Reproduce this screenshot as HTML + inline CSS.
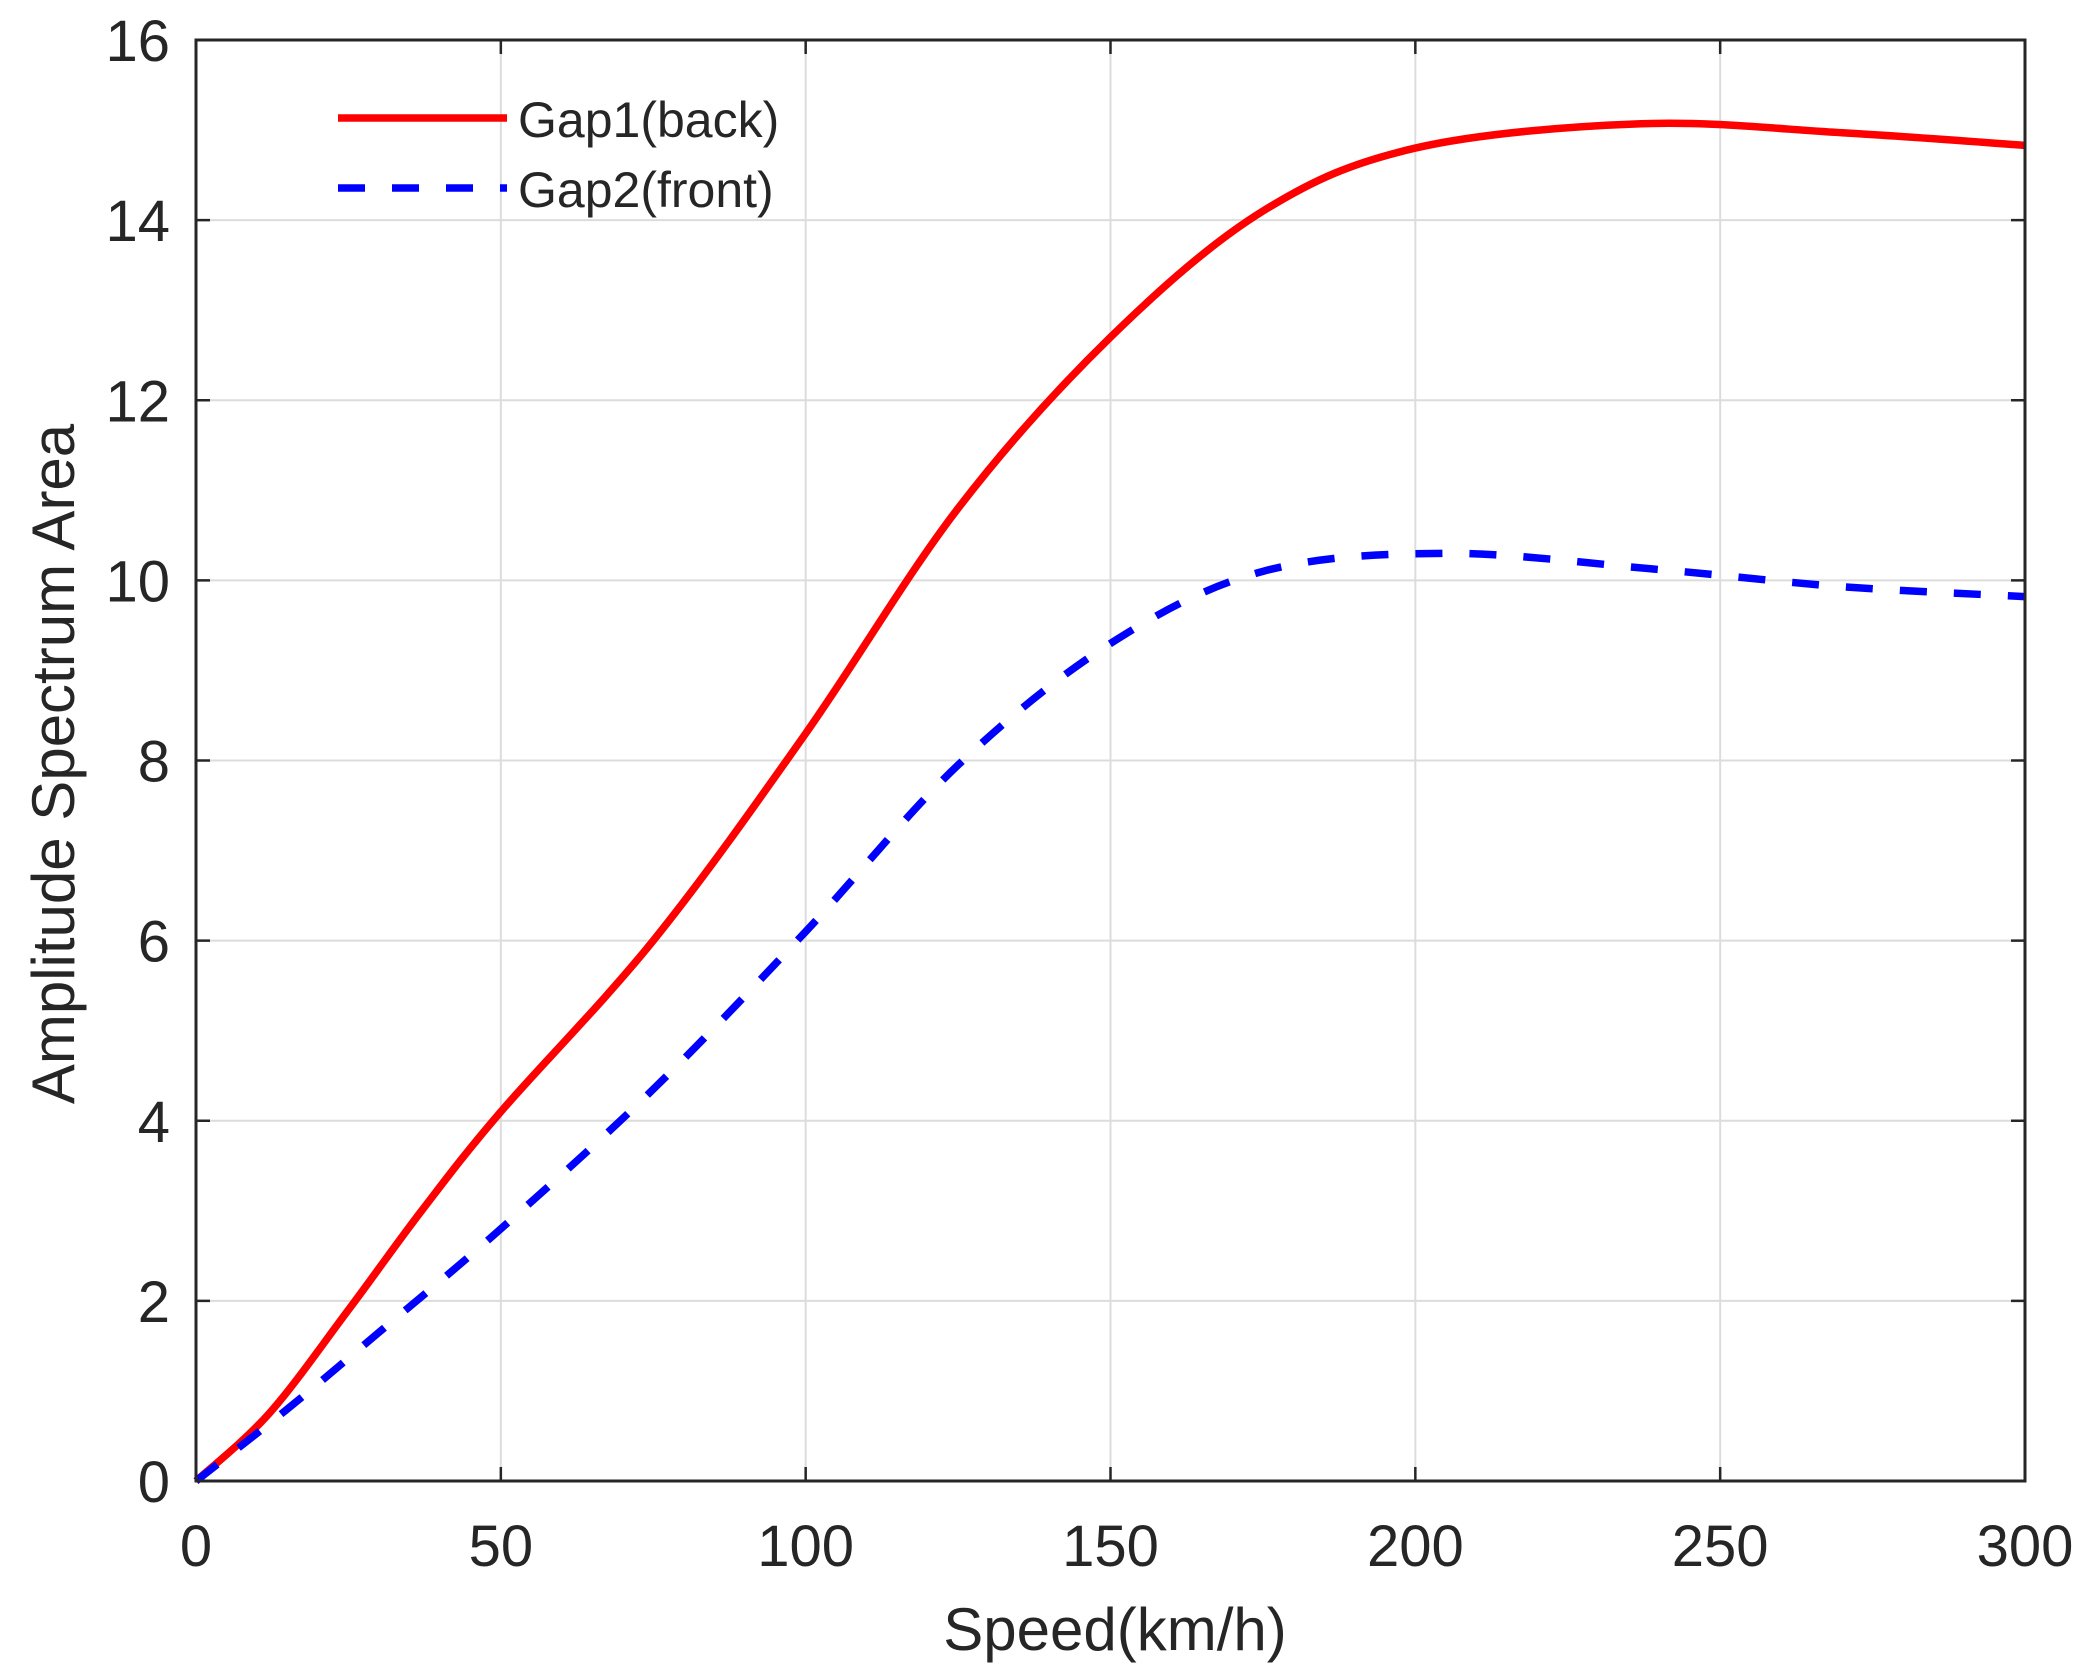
<!DOCTYPE html>
<html><head><meta charset="utf-8"><style>
html,body{margin:0;padding:0;background:#fff}
svg{display:block}
text{font-family:"Liberation Sans",Arial,sans-serif;fill:#262626}
</style></head><body>
<svg id="s" width="2099" height="1680" viewBox="0 0 2099 1680" xmlns="http://www.w3.org/2000/svg">
<g id="grid" stroke="#dcdcdc" stroke-width="2"></g>
<g id="ticks" stroke="#262626" stroke-width="2.5"></g>
<path id="red" fill="none" stroke="#ff0000" stroke-width="7.5" stroke-linejoin="round"/>
<path id="blue" fill="none" stroke="#0000ff" stroke-width="7.5" stroke-dasharray="27,27"/>
<rect x="196" y="40" width="1829" height="1441" fill="none" stroke="#262626" stroke-width="3"/>
<g id="labels" font-size="58"></g>
<line x1="338" y1="118" x2="507" y2="118" stroke="#ff0000" stroke-width="7.5"/>
<line x1="338" y1="188" x2="507" y2="188" stroke="#0000ff" stroke-width="7.5" stroke-dasharray="27,27"/>
<text x="518" y="137" font-size="50" fill="#000">Gap1(back)</text>
<text x="518" y="207" font-size="50" fill="#000">Gap2(front)</text>
<text x="1115" y="1650" font-size="60" text-anchor="middle">Speed(km/h)</text>
<text transform="translate(74,764) rotate(-90)" font-size="60" text-anchor="middle">Amplitude Spectrum Area</text>
</svg>
<script>
const L=196,R=2025,T=40,B=1481;
const X=v=>L+(R-L)*v/300, Y=v=>B-(B-T)*v/16;
const NS="http://www.w3.org/2000/svg";
function el(p,n,a,t){const e=document.createElementNS(NS,n);for(const k in a)e.setAttribute(k,a[k]);if(t!==undefined)e.textContent=t;document.getElementById(p).appendChild(e);}
for(let v=0;v<=300;v+=50){const x=X(v);
 if(v>0&&v<300)el('grid','line',{x1:x,y1:T,x2:x,y2:B});
 el('ticks','line',{x1:x,y1:B,x2:x,y2:B-14});el('ticks','line',{x1:x,y1:T,x2:x,y2:T+14});
 el('labels','text',{x:x,y:1566,'text-anchor':'middle'},v);}
for(let v=0;v<=16;v+=2){const y=Y(v);
 if(v>0&&v<16)el('grid','line',{x1:L,y1:y,x2:R,y2:y});
 el('ticks','line',{x1:L,y1:y,x2:L+14,y2:y});el('ticks','line',{x1:R,y1:y,x2:R-14,y2:y});
 el('labels','text',{x:170,y:y+21,'text-anchor':'end'},v);}
function path(d){const p=d.map(a=>[X(a[0]),Y(a[1])]);let s=`M${p[0][0]},${p[0][1]}`;
 for(let i=0;i<p.length-1;i++){const p0=p[Math.max(0,i-1)],p1=p[i],p2=p[i+1],p3=p[Math.min(p.length-1,i+2)];
  const c1=[p1[0]+(p2[0]-p0[0])/6,p1[1]+(p2[1]-p0[1])/6],c2=[p2[0]-(p3[0]-p1[0])/6,p2[1]-(p3[1]-p1[1])/6];
  s+=`C${c1[0]},${c1[1]} ${c2[0]},${c2[1]} ${p2[0]},${p2[1]}`;}return s;}
const red=[[0,0],[12,0.75],[25,1.9],[37,3.0],[50,4.1],[75,6.0],[100,8.3],[125,10.8],[150,12.7],[175,14.1],[200,14.8],[237,15.07],[270,14.97],[300,14.83]];
const blue=[[0,0],[15,0.8],[30,1.65],[50,2.8],[75,4.35],[100,6.1],[125,7.95],[150,9.3],[175,10.1],[205,10.3],[240,10.12],[270,9.93],[300,9.82]];
document.getElementById('red').setAttribute('d',path(red));
document.getElementById('blue').setAttribute('d',path(blue));
</script>
</body></html>
